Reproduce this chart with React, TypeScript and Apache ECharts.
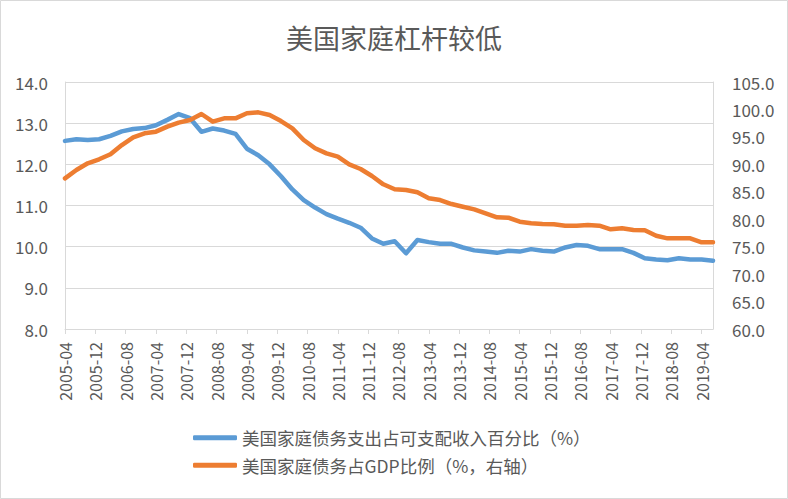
import React, { useEffect, useRef } from "react";
import * as echarts from "echarts";

const TITLE = "美国家庭杠杆较低";
const SERIES_NAMES = [
  "美国家庭债务支出占可支配收入百分比（%）",
  "美国家庭债务占GDP比例（%，右轴）",
];

// quarterly observation dates
const quarters = [
  "2005-04", "2005-07", "2005-10", "2006-01", "2006-04", "2006-07", "2006-10",
  "2007-01", "2007-04", "2007-07", "2007-10", "2008-01", "2008-04", "2008-07",
  "2008-10", "2009-01", "2009-04", "2009-07", "2009-10", "2010-01", "2010-04",
  "2010-07", "2010-10", "2011-01", "2011-04", "2011-07", "2011-10", "2012-01",
  "2012-04", "2012-07", "2012-10", "2013-01", "2013-04", "2013-07", "2013-10",
  "2014-01", "2014-04", "2014-07", "2014-10", "2015-01", "2015-04", "2015-07",
  "2015-10", "2016-01", "2016-04", "2016-07", "2016-10", "2017-01", "2017-04",
  "2017-07", "2017-10", "2018-01", "2018-04", "2018-07", "2018-10", "2019-01",
  "2019-04", "2019-07",
];

// 美国家庭债务支出占可支配收入百分比（%）, left axis
const debtServiceRatio = [
  12.57, 12.61, 12.59, 12.61, 12.69, 12.8, 12.86, 12.88, 12.95, 13.08,
  13.22, 13.12, 12.79, 12.87, 12.82, 12.74, 12.38, 12.22, 12.0, 11.71,
  11.39, 11.13, 10.95, 10.79, 10.68, 10.58, 10.46, 10.2, 10.07, 10.13,
  9.84, 10.16, 10.11, 10.07, 10.07, 9.98, 9.91, 9.88, 9.85, 9.9,
  9.88, 9.94, 9.9, 9.88, 9.98, 10.04, 10.02, 9.94, 9.94, 9.94,
  9.85, 9.72, 9.69, 9.67, 9.72, 9.69, 9.69, 9.66,
];

// 美国家庭债务占GDP比例（%，右轴）
const debtToGdp = [
  87.45, 88.97, 90.19, 90.92, 91.83, 93.52, 94.92, 95.65, 95.95, 96.86,
  97.59, 98.08, 99.17, 97.77, 98.38, 98.38, 99.3, 99.47, 98.99, 97.89,
  96.56, 94.43, 92.92, 92.0, 91.4, 90.0, 89.15, 87.87, 86.36, 85.45,
  85.32, 84.9, 83.81, 83.5, 82.77, 82.28, 81.8, 81.08, 80.35, 80.28,
  79.55, 79.26, 79.13, 79.07, 78.82, 78.82, 78.95, 78.82, 78.16, 78.35,
  78.04, 77.98, 77.0, 76.52, 76.52, 76.52, 75.8, 75.8,
];

const leftAxis = { min: 8, max: 14, interval: 1 };
const rightAxis = { min: 60, max: 105, interval: 5 };

// monthly axis categories spanning the quarterly dates
function monthRange(start: string, end: string): string[] {
  const [sy, sm] = start.split("-").map(Number);
  const [ey, em] = end.split("-").map(Number);
  const out: string[] = [];
  let y = sy, m = sm;
  while (y < ey || (y === ey && m <= em)) {
    out.push(`${y}-${String(m).padStart(2, "0")}`);
    m++;
    if (m > 12) { m = 1; y++; }
  }
  return out;
}

const FONT = "'Noto Sans CJK SC', 'Noto Sans', sans-serif";
const GREY = "#595959";

export default function App() {
  const ref = useRef<HTMLDivElement>(null);
  useEffect(() => {
    if (!ref.current) return;
    const chart = echarts.init(ref.current, undefined, { renderer: "svg" });
    const months = monthRange(quarters[0], quarters[quarters.length - 1]);
    const pair = (vals: number[]) =>
      quarters.map((q, i) => [months.indexOf(q), vals[i]]);
    chart.setOption({
      animation: false,
      backgroundColor: "#ffffff",
      textStyle: { fontFamily: FONT },
      title: {
        text: TITLE,
        left: "center",
        top: 19,
        textStyle: { fontSize: 27, fontWeight: "normal", color: GREY, fontFamily: FONT },
      },
      graphic: [
        {
          type: "rect",
          shape: { x: 0.5, y: 0.5, width: 787, height: 498 },
          style: { fill: "none", stroke: "#d9d9d9", lineWidth: 1 },
          silent: true,
        },
      ],
      grid: { left: 65, right: 75, top: 82, bottom: 170, containLabel: false },
      legend: {
        orient: "vertical",
        left: 188,
        top: 424,
        icon: "roundRect",
        itemWidth: 44,
        itemHeight: 5,
        itemGap: 10,
        textStyle: { fontSize: 17.5, color: GREY, fontFamily: FONT },
        data: SERIES_NAMES,
      },
      xAxis: {
        type: "category",
        data: months,
        boundaryGap: false,
        axisLine: { lineStyle: { color: "#d9d9d9", width: 1 } },
        axisTick: { interval: 7, length: 5, lineStyle: { color: "#d9d9d9" } },
        axisLabel: {
          interval: 7,
          rotate: 90,
          margin: 13,
          fontSize: 16,
          color: GREY,
          fontFamily: FONT,
        },
        splitLine: { show: false },
      },
      yAxis: [
        {
          type: "value",
          ...leftAxis,
          position: "left",
          axisLine: { show: true, lineStyle: { color: "#d9d9d9" } },
          axisTick: { show: false },
          axisLabel: {
            formatter: (v: number) => v.toFixed(1),
            fontSize: 17,
            color: GREY,
            margin: 17,
            fontFamily: FONT,
          },
          splitLine: { show: true, lineStyle: { color: "#d9d9d9", width: 1 } },
        },
        {
          type: "value",
          ...rightAxis,
          position: "right",
          axisLine: { show: true, lineStyle: { color: "#d9d9d9" } },
          axisTick: { show: false },
          axisLabel: {
            formatter: (v: number) => v.toFixed(1),
            fontSize: 17,
            color: GREY,
            margin: 19,
            fontFamily: FONT,
          },
          splitLine: { show: false },
        },
      ],
      series: [
        {
          name: SERIES_NAMES[0],
          type: "line",
          yAxisIndex: 0,
          data: pair(debtServiceRatio),
          showSymbol: false,
          symbol: "none",
          lineStyle: { color: "#5b9bd5", width: 4.5, cap: "round", join: "round" },
          itemStyle: { color: "#5b9bd5" },
        },
        {
          name: SERIES_NAMES[1],
          type: "line",
          yAxisIndex: 1,
          data: pair(debtToGdp),
          showSymbol: false,
          symbol: "none",
          lineStyle: { color: "#ed7d31", width: 4.5, cap: "round", join: "round" },
          itemStyle: { color: "#ed7d31" },
        },
      ],
    });
    return () => chart.dispose();
  }, []);
  return (
    <div
      ref={ref}
      style={{ position: "absolute", left: 0, top: 0, width: 788, height: 499 }}
    />
  );
}
